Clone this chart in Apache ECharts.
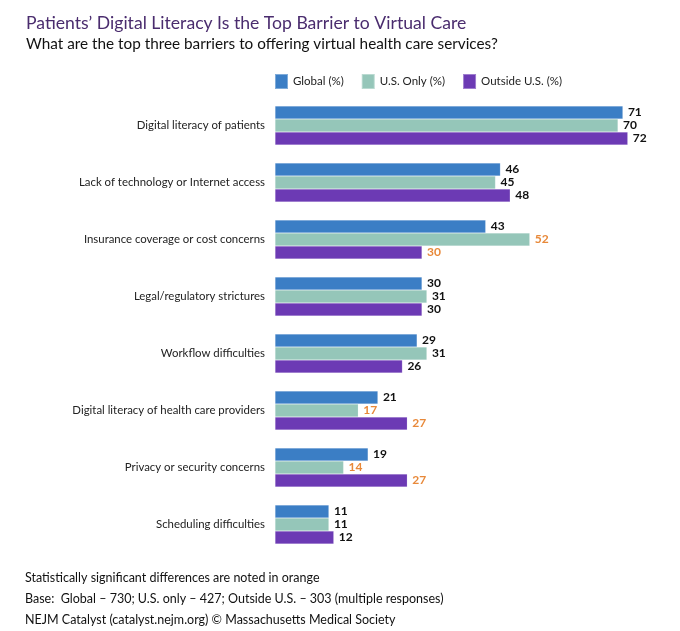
<!DOCTYPE html>
<html><head><meta charset="utf-8">
<script src="https://cdn.jsdelivr.net/npm/echarts@6/dist/echarts.min.js"></script>
<style>html,body{margin:0;padding:0;background:#fff}#c{width:680px;height:631px}</style>
</head><body><div id="c"></div>
<script>
const categories = ["Digital literacy of patients","Lack of technology or Internet access","Insurance coverage or cost concerns","Legal/regulatory strictures","Workflow difficulties","Digital literacy of health care providers","Privacy or security concerns","Scheduling difficulties"];
const seriesNames = ["Global (%)","U.S. Only (%)","Outside U.S. (%)"];
const globalVals = [71,46,43,30,29,21,19,11];
const usVals = [70,45,52,31,31,17,14,11];
const outsideVals = [72,48,30,30,26,27,27,12];
const usSignificant = [0,0,1,0,0,1,1,0];
const outsideSignificant = [0,0,1,0,0,1,1,0];
const globalSignificant = [0,0,0,0,0,0,0,0];

const colors = ["#3B7EC5","#95C6B9","#6C3AB4"];
const orange = "#E8893A";
const FONT = "Lato";

function mk(vals, sig){
  return vals.map((v,i)=>({value:v,label:{color: sig[i] ? orange : "#111"}}));
}
const chart = echarts.init(document.getElementById('c'));
const allVals=[globalVals,usVals,outsideVals];
const allSig=[globalSignificant,usSignificant,outsideSignificant];
chart.setOption({
  animation:false,
  textStyle:{fontFamily:FONT},
  title:[
    {text:"Patients’ Digital Literacy Is the Top Barrier to Virtual Care",left:21,top:9,textStyle:{fontFamily:FONT,fontSize:17.6,fontWeight:"normal",color:"#4A2C6E"}},
    {text:"What are the top three barriers to offering virtual health care services?",left:21,top:32,textStyle:{fontFamily:FONT,fontSize:15.3,fontWeight:"normal",color:"#111"}},
    {text:"Statistically significant differences are noted in orange",left:20,top:566,textStyle:{fontFamily:FONT,fontSize:12.5,fontWeight:"normal",color:"#111"}},
    {text:"Base:  Global – 730; U.S. only – 427; Outside U.S. – 303 (multiple responses)",left:20,top:587,textStyle:{fontFamily:FONT,fontSize:12.5,fontWeight:"normal",color:"#111"}},
    {text:"NEJM Catalyst (catalyst.nejm.org) © Massachusetts Medical Society",left:20,top:608,textStyle:{fontFamily:FONT,fontSize:12.5,fontWeight:"normal",color:"#111"}}
  ],
  legend:{data:seriesNames,left:269,top:68,itemWidth:13,itemHeight:15,itemGap:17,icon:"rect",textStyle:{fontFamily:FONT,fontSize:11.5,color:"#222"}},
  grid:{left:275,right:13,top:97,bottom:78,containLabel:false},
  xAxis:{type:"value",min:0,max:80,show:false},
  yAxis:{type:"category",data:categories,inverse:true,axisLine:{show:false},axisTick:{show:false},
    axisLabel:{fontFamily:FONT,fontSize:11.4,color:"#222",margin:10}},
  series: seriesNames.map((n,k)=>({
    name:n,type:"bar",barWidth:13,barGap:"0%",
    itemStyle:{color:colors[k],borderColor:"rgba(255,255,255,0.35)",borderWidth:0.5},
    label:{show:true,position:"right",distance:5,fontFamily:FONT,fontSize:12,fontWeight:"bold"},
    data:mk(allVals[k],allSig[k])
  }))
});
</script></body></html>
